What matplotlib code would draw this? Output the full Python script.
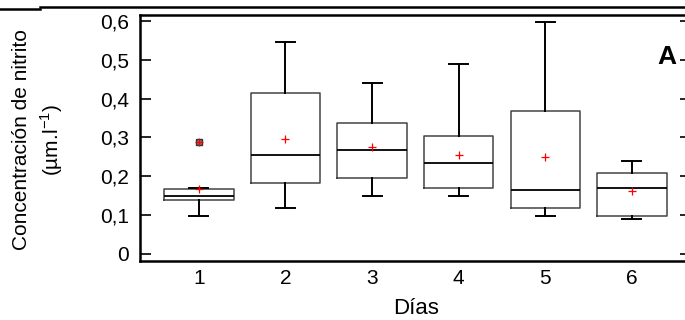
import matplotlib
matplotlib.use('Agg')
import matplotlib.pyplot as plt
from matplotlib.lines import Line2D

plt.rcParams['font.family'] = ['Liberation Sans', 'DejaVu Sans']

# Nitrite concentration per day (µm/l): box statistics
dias = [1, 2, 3, 4, 5, 6]
whisker_low = [0.099, 0.119, 0.149, 0.149, 0.099, 0.090]
q1 = [0.139, 0.184, 0.195, 0.169, 0.118, 0.099]
medianas = [0.149, 0.254, 0.269, 0.234, 0.164, 0.169]
q3 = [0.168, 0.414, 0.338, 0.305, 0.369, 0.209]
whisker_high = [0.170, 0.547, 0.440, 0.489, 0.598, 0.240]
medias = [0.167, 0.297, 0.275, 0.256, 0.251, 0.161]
atipicos = [[0.288], [], [], [], [], []]

yticks = [0, 0.1, 0.2, 0.3, 0.4, 0.5, 0.6]
ytick_labels = ['0', '0,1', '0,2', '0,3', '0,4', '0,5', '0,6']

stats = []
for i in range(len(dias)):
    stats.append({
        'whislo': whisker_low[i], 'q1': q1[i], 'med': medianas[i],
        'q3': q3[i], 'whishi': whisker_high[i], 'mean': medias[i],
        'fliers': atipicos[i],
    })

fig = plt.figure(figsize=(6.85, 3.2), dpi=100)
ax = fig.add_axes([0.2044, 0.1853, 0.804, 0.768])

ax.bxp(stats, positions=dias, widths=0.8, showmeans=True, showfliers=True,
       boxprops=dict(color='#444444', linewidth=1.1),
       medianprops=dict(color='black', linewidth=1.3),
       whiskerprops=dict(color='black', linewidth=1.4),
       capprops=dict(color='black', linewidth=1.4),
       capwidths=0.22,
       meanprops=dict(marker='+', markeredgecolor='red', markersize=6,
                      markeredgewidth=0.9, linestyle='none'),
       flierprops=dict(marker='s', markerfacecolor='#777777',
                       markeredgecolor='#333333', markersize=5))

# red cross drawn over the outlier square
for i, vals in enumerate(atipicos):
    for v in vals:
        ax.plot(dias[i], v, marker='+', color='red', markersize=6,
                markeredgewidth=0.9, linestyle='none', zorder=5)

ax.set_xlim(0.32, 6.68)
ax.set_ylim(-0.0173, 0.6155)
ax.set_xticks(dias)
ax.set_xticklabels([str(d) for d in dias])
ax.set_yticks(yticks)
ax.set_yticklabels(ytick_labels)
ax.tick_params(axis='y', direction='in', length=8, width=1.2,
               right=True, labelsize=15, pad=8)
ax.tick_params(axis='x', length=0, labelsize=15, pad=6)

for side in ['left', 'bottom', 'top', 'right']:
    ax.spines[side].set_linewidth(1.8)

fig.text(416 / 685, 1 - 309 / 320, 'Días', fontsize=16,
         ha='center', va='center')
fig.text(22 / 685, 0.5625, 'Concentración de nitrito', rotation=90,
         ha='center', va='center', fontsize=15)
fig.text(52 / 685, 0.5625, '(µm.l$^{\\mathregular{-1}}$)', rotation=90,
         ha='center', va='center', fontsize=15)

fig.text(667 / 685, 1 - 57 / 320, 'A', fontsize=19, fontweight='bold',
         ha='center', va='center')

# rules at the top of the page
fig.add_artist(Line2D([40 / 685, 1], [1 - 7.3 / 320] * 2, color='black', linewidth=1.8))
fig.add_artist(Line2D([0, 40 / 685], [1 - 9.3 / 320] * 2, color='black', linewidth=1.8))

fig.savefig('out.png', dpi=100)
